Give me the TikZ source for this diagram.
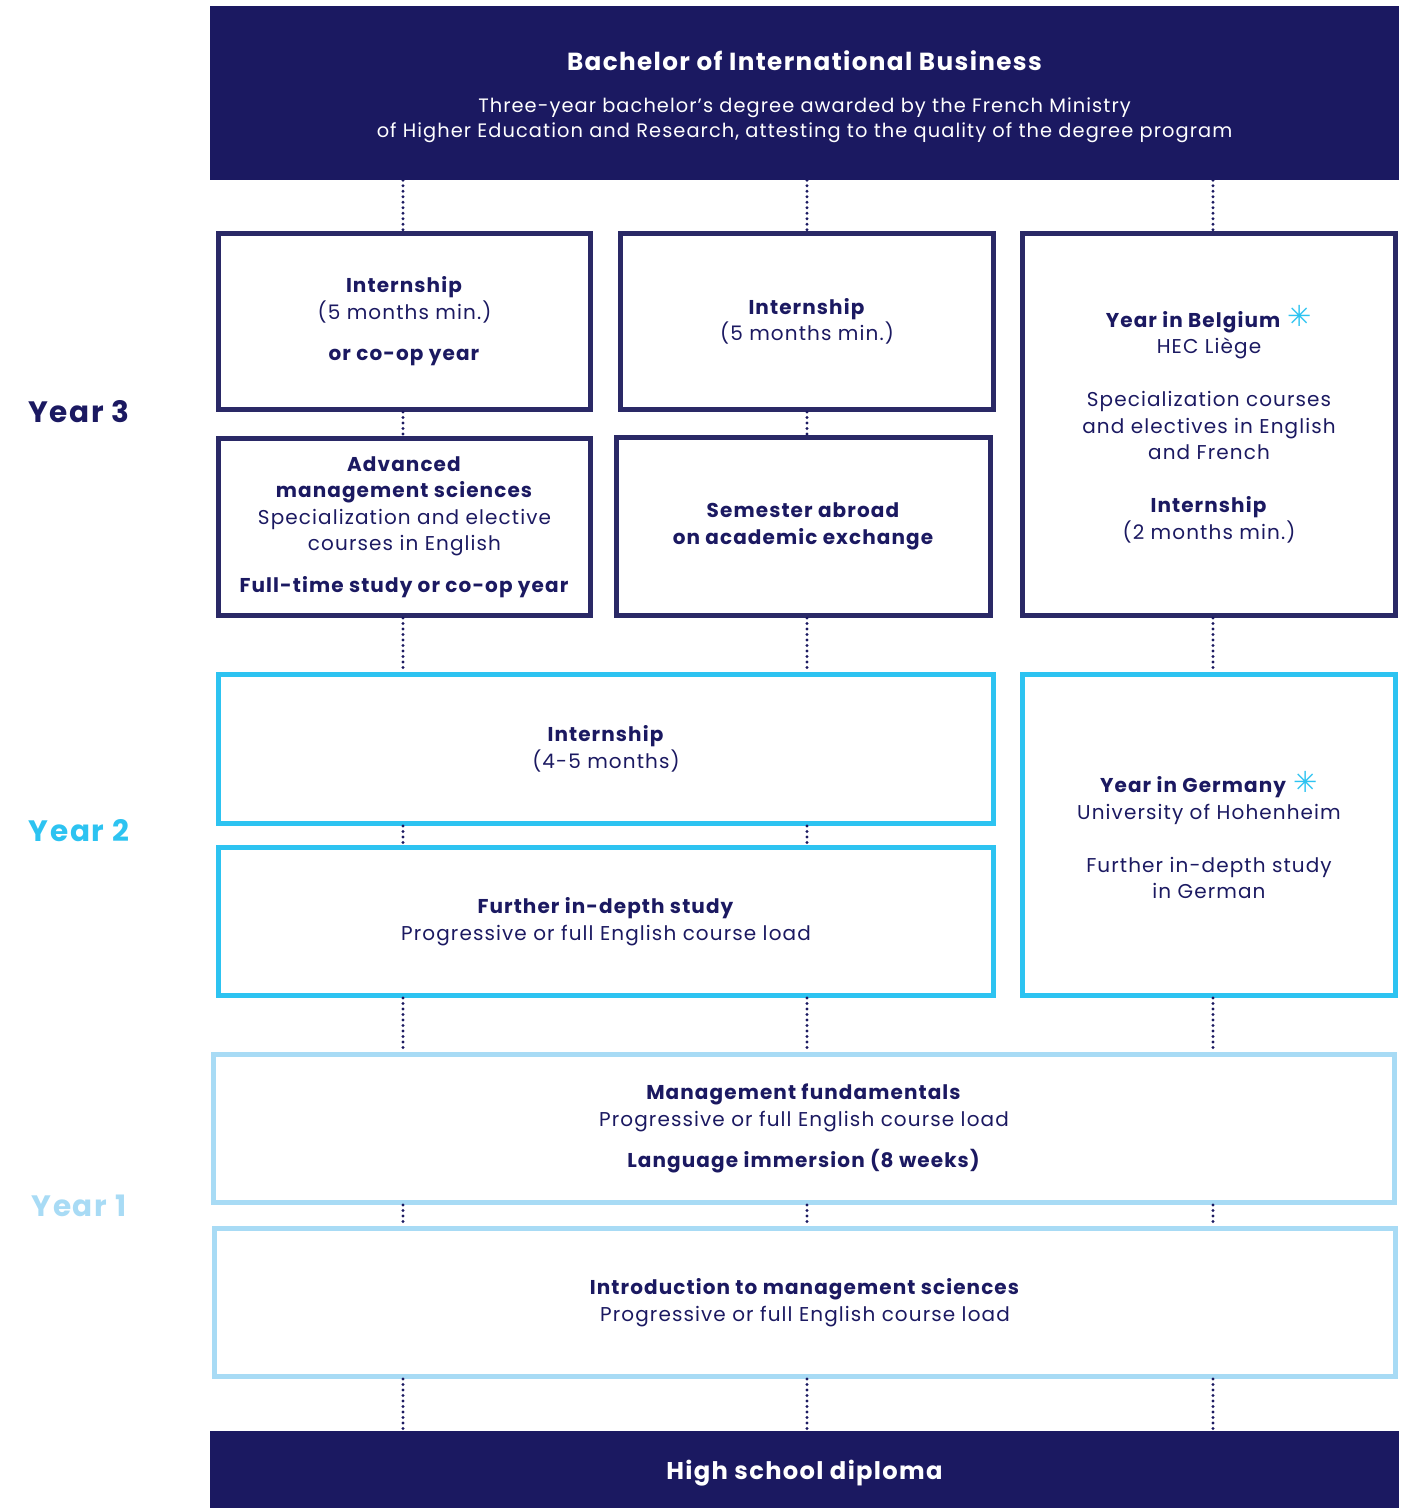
\documentclass[tikz,border=0pt]{standalone}
\usepackage{fontspec}
\setmainfont{Poppins}[LetterSpace=5.5]
\newfontfamily\symfont{DejaVu Sans}
\usepackage{tikz}

\definecolor{navy}{HTML}{1B1961}
\definecolor{navyline}{HTML}{2A2966}
\definecolor{midblue}{HTML}{2DC3F1}
\definecolor{lightblue}{HTML}{A8DBF5}

\newcommand{\boxfont}{\fontsize{20}{26.5}\selectfont}
\newcommand{\yearstar}{{\symfont\fontsize{29}{26}\selectfont\textcolor{midblue}{\raisebox{0.5pt}{✳}}}}

\tikzset{
  yearthree/.style={draw=navyline, line width=5pt, inner sep=0pt, align=center, text=navy, font=\boxfont},
  yeartwo/.style={yearthree, draw=midblue},
  yearone/.style={yearthree, draw=lightblue},
  banner/.style={fill=navy, inner sep=0pt, align=center, text=white},
  yearlabel/.style={font=\fontsize{29.5}{30}\selectfont\bfseries},
  dotline/.style={draw=navy, line width=3.2pt, line cap=round, dash pattern=on 0pt off 5.5pt}
}

\begin{document}
\begin{tikzpicture}[x=1pt,y=-1pt]
\useasboundingbox (0,0) rectangle (1413,1508);

% banners
\node [banner, minimum width=1189, minimum height=174] (top) at (804.5,93) {};
\node [banner, fill=none, font=\fontsize{19.4}{25}\selectfont] (toptext) at (804.5,97)
  {{\fontsize{24.7}{26}\selectfont\bfseries Bachelor of International Business}\\[17pt]
   Three-year bachelor's degree awarded by the French Ministry\\
   of Higher Education and Research, attesting to the quality of the degree program};
\node [banner, minimum width=1189, minimum height=84, font=\fontsize{24.2}{26}\selectfont\bfseries] (bottom) at (804.5,1473) {High school diploma};

% year 3
\node [yearthree, minimum width=372, minimum height=176] (h3a) at (404.5,321.5)
  {\textbf{Internship}\\(5 months min.)\\[15pt]\textbf{or co-op year}};
\node [yearthree, minimum width=372, minimum height=177] (h3b) at (404.5,527)
  {\textbf{Advanced}\\\textbf{management sciences}\\Specialization and elective\\courses in English\\[15pt]\textbf{Full-time study or co-op year}};
\node [yearthree, minimum width=373, minimum height=176] (m3a) at (807,321.5)
  {\textbf{Internship}\\(5 months min.)};
\node [yearthree, minimum width=374, minimum height=178] (m3b) at (803.5,526.5)
  {\textbf{Semester abroad}\\\textbf{on academic exchange}};
\node [yearthree, minimum width=373, minimum height=382] (r3) at (1209,424.5)
  {\textbf{Year in Belgium} \yearstar\\HEC Liège\\[26.5pt]Specialization courses\\and electives in English\\and French\\[26.5pt]\textbf{Internship}\\(2 months min.)};

% year 2
\node [yeartwo, minimum width=775, minimum height=149] (y2a) at (606,749)
  {\textbf{Internship}\\(4-5 months)};
\node [yeartwo, minimum width=775, minimum height=148] (y2b) at (606,921.5)
  {\textbf{Further in-depth study}\\Progressive or full English course load};
\node [yeartwo, minimum width=373, minimum height=321] (r2) at (1209,835)
  {\textbf{Year in Germany} \yearstar\\University of Hohenheim\\[26.5pt]Further in-depth study\\in German};

% year 1
\node [yearone, minimum width=1181, minimum height=148] (y1a) at (804,1128.5)
  {\textbf{Management fundamentals}\\Progressive or full English course load\\[15pt]\textbf{Language immersion (8 weeks)}};
\node [yearone, minimum width=1181, minimum height=148] (y1b) at (805,1302.5)
  {\textbf{Introduction to management sciences}\\Progressive or full English course load};

% year labels
\node [yearlabel, text=navy] (l3) at (79,412) {Year 3};
\node [yearlabel, text=midblue] (l2) at (79,831) {Year 2};
\node [yearlabel, text=lightblue] (l1) at (79,1206) {Year 1};

% columns of the dotted links
\coordinate (c1) at (403,0);
\coordinate (c2) at (807,0);
\coordinate (c3) at (1213,0);

\draw[dotline] (top.south -| c1) -- (h3a.north -| c1);
\draw[dotline] (top.south -| c2) -- (m3a.north -| c2);
\draw[dotline] (top.south -| c3) -- (r3.north -| c3);

\draw[dotline] (h3a.south -| c1) -- (h3b.north -| c1);
\draw[dotline] (m3a.south -| c2) -- (m3b.north -| c2);

\draw[dotline] (h3b.south -| c1) -- (y2a.north -| c1);
\draw[dotline] (m3b.south -| c2) -- (y2a.north -| c2);
\draw[dotline] (r3.south -| c3) -- (r2.north -| c3);

\draw[dotline] (y2a.south -| c1) -- (y2b.north -| c1);
\draw[dotline] (y2a.south -| c2) -- (y2b.north -| c2);

\draw[dotline] (y2b.south -| c1) -- (y1a.north -| c1);
\draw[dotline] (y2b.south -| c2) -- (y1a.north -| c2);
\draw[dotline] (r2.south -| c3) -- (y1a.north -| c3);

\draw[dotline] (y1a.south -| c1) -- (y1b.north -| c1);
\draw[dotline] (y1a.south -| c2) -- (y1b.north -| c2);
\draw[dotline] (y1a.south -| c3) -- (y1b.north -| c3);

\draw[dotline] (y1b.south -| c1) -- (bottom.north -| c1);
\draw[dotline] (y1b.south -| c2) -- (bottom.north -| c2);
\draw[dotline] (y1b.south -| c3) -- (bottom.north -| c3);

\end{tikzpicture}
\end{document}
